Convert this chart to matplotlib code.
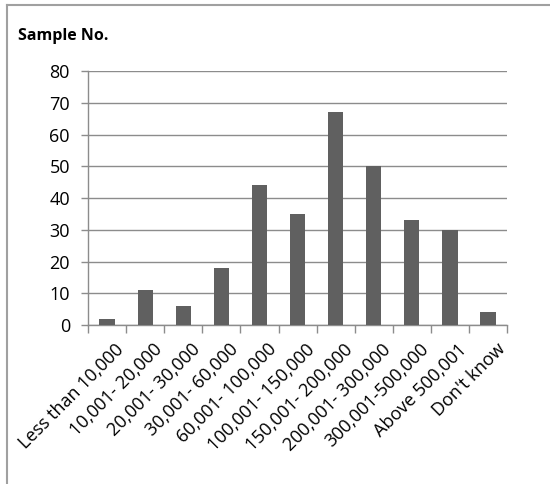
import matplotlib
matplotlib.use("Agg")
import matplotlib.pyplot as plt
from matplotlib.lines import Line2D
import matplotlib.transforms as mtransforms
import numpy as np

categories = ["Less than 10,000", "10,001- 20,000", "20,001- 30,000", "30,001- 60,000",
              "60,001- 100,000", "100,001- 150,000", "150,001- 200,000", "200,001- 300,000",
              "300,001-500,000", "Above 500,001", "Don't know"]
counts = [2, 11, 6, 18, 44, 35, 67, 50, 33, 30, 4]
y_ticks = [0, 10, 20, 30, 40, 50, 60, 70, 80]

plt.rcParams['font.family'] = ['Open Sans', 'DejaVu Sans']
grid_col = "#8c8c8c"
bar_col = "#606060"

fig = plt.figure(figsize=(5.5, 4.84), dpi=100)
ax = fig.add_axes([0.16, 0.3285, 0.762, 0.5245])

x = np.arange(len(categories))
ax.bar(x, counts, width=0.4, color=bar_col, zorder=3)

ax.set_xlim(-0.5, len(categories) - 0.5)
ax.set_ylim(0, 80)
ax.set_yticks(y_ticks)
ax.set_yticklabels([str(v) for v in y_ticks], fontsize=13)
ax.yaxis.grid(True, color=grid_col, linewidth=1.0, zorder=0)
ax.tick_params(axis='y', length=5, color=grid_col, width=1.0, pad=8)

# category separators as ticks along the bottom axis
ax.set_xticks(np.arange(len(categories) + 1) - 0.5, minor=False)
ax.set_xticklabels([])
ax.tick_params(axis='x', length=6, color=grid_col, width=1.0)
ax.set_xticks(x, minor=True)
labels = ax.set_xticklabels(categories, minor=True, rotation=45, ha='right', va='top',
                            rotation_mode='anchor', fontsize=13)
ax.tick_params(axis='x', which='minor', length=0, pad=11)
shift = mtransforms.ScaledTranslation(8 / 100, 0, fig.dpi_scale_trans)
for lab in labels:
    lab.set_transform(lab.get_transform() + shift)

for side in ['top', 'right']:
    ax.spines[side].set_visible(False)
for side in ['left', 'bottom']:
    ax.spines[side].set_color(grid_col)
    ax.spines[side].set_linewidth(1.0)

fig.text(0.033, 0.925, "Sample No.", fontsize=11.5, fontweight='bold', va='center', ha='left')

# outer chart border (top and left edges)
fig.add_artist(Line2D([6.5 / 550, 1.0], [1 - 4.5 / 484, 1 - 4.5 / 484],
                      transform=fig.transFigure, color="#a0a0a0", linewidth=1.5))
fig.add_artist(Line2D([6.5 / 550, 6.5 / 550], [0.0, 1 - 4.5 / 484],
                      transform=fig.transFigure, color="#a0a0a0", linewidth=1.5))

fig.savefig("out.png", dpi=100)
